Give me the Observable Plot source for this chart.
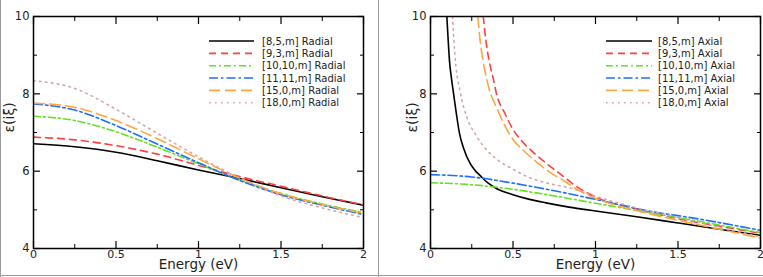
<!DOCTYPE html>
<html><head><meta charset="utf-8">
<script src="https://cdn.jsdelivr.net/npm/d3@7"></script>
<script src="https://cdn.jsdelivr.net/npm/@observablehq/plot@0.6"></script>
<style>
body{margin:0;background:#fff;}
#wrap{position:relative;width:763px;height:277px;overflow:hidden;background:#fff;font-family:"DejaVu Sans",sans-serif;}
#left{position:absolute;left:0;top:0;}
#right{position:absolute;left:380px;top:0;}
.bl{position:absolute;background:#9a9a9a;}
</style></head><body>
<div id="wrap"><div id="left"></div><div id="right"></div>
<div class="bl" style="left:0;top:0;width:1px;height:277px"></div>
<div class="bl" style="left:378px;top:0;width:1px;height:277px"></div>
<div class="bl" style="left:0;top:275px;width:763px;height:1px"></div>
</div>
<script>
// ---- data ----
const seriesNames = ["[8,5,m]", "[9,3,m]", "[10,10,m]", "[11,11,m]", "[15,0,m]", "[18,0,m]"];

// Radial (left panel), common energy grid
const radialE = [0, 0.25, 0.5, 0.75, 1, 1.25, 1.5, 1.75, 2];
const radial_8_5   = [6.71, 6.63, 6.49, 6.27, 6.03, 5.81, 5.57, 5.34, 5.12];
const radial_9_3   = [6.88, 6.81, 6.66, 6.44, 6.15, 5.86, 5.61, 5.36, 5.13];
const radial_10_10 = [7.42, 7.31, 7.02, 6.62, 6.19, 5.77, 5.42, 5.15, 4.93];
const radial_11_11 = [7.74, 7.58, 7.18, 6.70, 6.22, 5.76, 5.39, 5.12, 4.88];
const radial_15_0  = [7.76, 7.65, 7.31, 6.84, 6.32, 5.82, 5.42, 5.14, 4.91];
const radial_18_0  = [8.34, 8.14, 7.60, 6.98, 6.37, 5.82, 5.36, 5.05, 4.80];

// Axial (right panel), per-series energy grids
const axialE_8_5 = [0.099, 0.107, 0.115, 0.127, 0.14, 0.158, 0.176, 0.2, 0.24, 0.27, 0.3, 0.35, 0.4, 0.5, 0.6, 0.7, 0.84, 1.0, 1.25, 1.5, 1.75, 2.0];
const axial_8_5  = [10, 9.4, 8.86, 8.4, 8.0, 7.45, 6.97, 6.6, 6.2, 6.02, 5.89, 5.69, 5.55, 5.39, 5.27, 5.18, 5.07, 4.97, 4.82, 4.66, 4.5, 4.34];
const axialE_9_3 = [0.32, 0.335, 0.355, 0.38, 0.40, 0.45, 0.5, 0.56, 0.62, 0.685, 0.78, 0.88, 1.0, 1.25, 1.5, 1.75, 2.0];
const axial_9_3  = [10, 9.4, 8.86, 8.4, 8.0, 7.5, 7.08, 6.75, 6.5, 6.26, 5.95, 5.62, 5.33, 5.02, 4.77, 4.58, 4.39];
const axialE_10_10 = [0, 0.25, 0.5, 0.79, 1.0, 1.5, 2.0];
const axial_10_10  = [5.70, 5.65, 5.53, 5.33, 5.17, 4.80, 4.41];
const axialE_11_11 = [0, 0.25, 0.5, 0.79, 1.0, 1.39, 1.5, 2.0];
const axial_11_11  = [5.91, 5.85, 5.69, 5.46, 5.27, 4.92, 4.85, 4.47];
const axialE_15_0 = [0.287, 0.3, 0.318, 0.34, 0.36, 0.39, 0.42, 0.46, 0.5, 0.56, 0.63, 0.72, 0.82, 0.9, 1.0, 1.25, 1.5, 1.75, 2.0];
const axial_15_0  = [10, 9.4, 8.86, 8.4, 8.05, 7.75, 7.45, 7.1, 6.82, 6.55, 6.28, 5.98, 5.72, 5.5, 5.3, 4.98, 4.73, 4.5, 4.27];
const axialE_18_0 = [0.133, 0.15, 0.18, 0.22, 0.27, 0.33, 0.41, 0.5, 0.59, 0.7, 0.84, 1.0, 1.25, 1.5, 1.75, 2.0];
const axial_18_0  = [10, 8.9, 8.05, 7.4, 6.97, 6.6, 6.28, 6.05, 5.85, 5.7, 5.57, 5.35, 5.05, 4.8, 4.55, 4.3];

const xMajor = [0, 0.5, 1, 1.5, 2];
const xMinor = [0.25, 0.75, 1.25, 1.75];
const yMajor = [4, 6, 8, 10];
const yMinor = [5, 7, 9];

// ---- styles ----
const colors = ["#000000", "#ff4040", "#66e024", "#1f6fff", "#ffa640", "#d4a6a6"];
const dashes = [null, "7,5", "7,3,2,3", "9,3,2.5,3", "11,5", "1.6,4.4"];

function toRows(es, vs) { return es.map((e, i) => ({E: e, v: vs[i]})); }

const radialSeries = [
  toRows(radialE, radial_8_5), toRows(radialE, radial_9_3), toRows(radialE, radial_10_10),
  toRows(radialE, radial_11_11), toRows(radialE, radial_15_0), toRows(radialE, radial_18_0)
];
const axialSeries = [
  toRows(axialE_8_5, axial_8_5), toRows(axialE_9_3, axial_9_3), toRows(axialE_10_10, axial_10_10),
  toRows(axialE_11_11, axial_11_11), toRows(axialE_15_0, axial_15_0), toRows(axialE_18_0, axial_18_0)
];

function panel(series, suffix, opts) {
  const blank = () => "";
  const marks = [];
  series.forEach((rows, i) => {
    marks.push(Plot.line(rows, {x: "E", y: "v", stroke: colors[i], strokeWidth: 1.6,
      strokeDasharray: dashes[i] || undefined, curve: "monotone-x", clip: true}));
  });
  marks.push(
    Plot.frame({stroke: "#000", strokeWidth: 1.5}),
    Plot.axisX(xMajor, {anchor: "bottom", tickSize: -7, tickFormat: blank, label: null, strokeWidth: 1.2}),
    Plot.axisX(xMajor, {anchor: "top", tickSize: -7, tickFormat: blank, label: null, strokeWidth: 1.2}),
    Plot.axisX(xMinor, {anchor: "bottom", tickSize: -4, tickFormat: blank, label: null, strokeWidth: 1}),
    Plot.axisX(xMinor, {anchor: "top", tickSize: -4, tickFormat: blank, label: null, strokeWidth: 1}),
    Plot.axisY(yMajor, {anchor: "left", tickSize: -7, tickFormat: blank, label: null, strokeWidth: 1.2}),
    Plot.axisY(yMajor, {anchor: "right", tickSize: -7, tickFormat: blank, label: null, strokeWidth: 1.2}),
    Plot.axisY(yMinor, {anchor: "left", tickSize: -4, tickFormat: blank, label: null, strokeWidth: 1}),
    Plot.axisY(yMinor, {anchor: "right", tickSize: -4, tickFormat: blank, label: null, strokeWidth: 1}),
    Plot.axisX(xMajor, {anchor: "bottom", tickSize: 0, tickPadding: 2, tickFormat: d => String(d), label: null, fontSize: 11, fill: "#222"}),
    Plot.axisY(yMajor, {anchor: "left", tickSize: 0, tickPadding: 4, tickFormat: d => String(d), label: null, fontSize: 11.5, fill: "#222"}),
    Plot.text(["Energy (eV)"], {frameAnchor: "bottom", dy: 20.5, fontSize: 13.5, fill: "#222"}),
    Plot.text(["ε(iξ)"], {frameAnchor: "left", dx: opts.ytitleDx, rotate: -90, fontSize: 14, fill: "#222"})
  );
  const chart = Plot.plot({
    width: opts.width, height: 277,
    marginLeft: opts.marginLeft, marginRight: opts.marginRight, marginTop: 16, marginBottom: 29,
    style: {fontFamily: "DejaVu Sans, sans-serif", background: "transparent", overflow: "visible"},
    x: {domain: [0, 2], label: null},
    y: {domain: [4, 10], label: null},
    marks
  });
  // legend
  const svg = d3.select(chart);
  const g = svg.append("g").attr("text-anchor", "start");
  seriesNames.forEach((name, i) => {
    const y = 41 + i * 12.35;
    g.append("line").attr("x1", opts.legX1).attr("x2", opts.legX2).attr("y1", y).attr("y2", y)
      .attr("stroke", colors[i]).attr("stroke-width", 1.6)
      .attr("stroke-dasharray", dashes[i] || null);
    g.append("text").attr("x", opts.legText).attr("y", y).attr("dy", "0.35em")
      .attr("text-anchor", "start")
      .attr("font-size", 10).attr("fill", "#222").text(name + " " + suffix);
  });
  return chart;
}

document.getElementById("left").appendChild(panel(radialSeries, "Radial",
  {width: 380, marginLeft: 33, marginRight: 17, ytitleDx: -24, legX1: 209, legX2: 254, legText: 262}));
document.getElementById("right").appendChild(panel(axialSeries, "Axial",
  {width: 383, marginLeft: 50, marginRight: 3, ytitleDx: -18, legX1: 226, legX2: 272, legText: 278}));
</script>
</body></html>
